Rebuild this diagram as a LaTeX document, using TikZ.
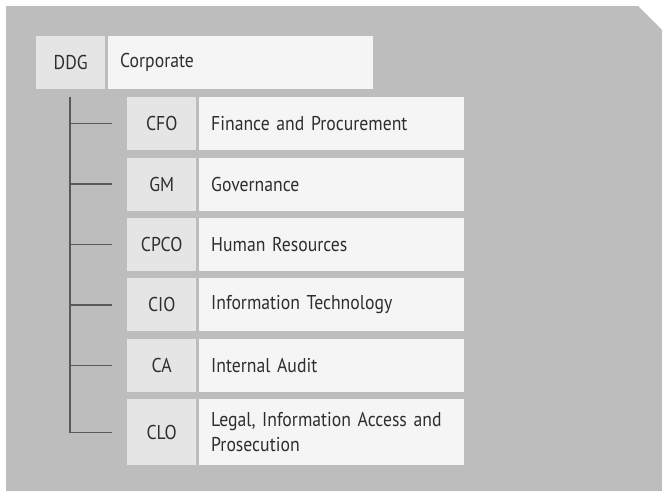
\documentclass[tikz,border=0pt]{standalone}
\usepackage{fontspec}
\setmainfont{PT Sans}[FakeStretch=0.885]
\begin{document}
\begin{tikzpicture}[x=1pt,y=-1pt,
  every node/.style={font=\fontsize{20pt}{25pt}\selectfont, text=black!82},
  abbr/.style={fill=gray!20, minimum width=69pt, minimum height=53pt, inner sep=0pt, anchor=north west},
  unit/.style={fill=gray!8, text width=241pt, inner xsep=12pt, inner ysep=0pt, minimum height=53pt, align=left, anchor=north west},
  tree/.style={draw=black!65, line width=1.3pt}
]
\useasboundingbox (0,0) rectangle (662,491);
\fill[gray!52] (6,6) -- (638,6) -- (662,30) -- (662,491) -- (6,491) -- cycle;

\node[abbr] (ddg) at (36,36) {DDG};
\node[unit] (corp) at (108,36) {Corporate};

\node[abbr] (cfo) at (127,97) {CFO};
\node[unit] (fin) at (199,97) {Finance and Procurement};
\node[abbr] (gm) at (127,157.4) {GM};
\node[unit] (gov) at (199,157.4) {Governance};
\node[abbr] (cpco) at (127,217.8) {CPCO};
\node[unit] (hr) at (199,217.8) {Human Resources};
\node[abbr] (cio) at (127,278.2) {CIO};
\node[unit] (it) at (199,278.2) {Information Technology};
\node[abbr] (ca) at (127,338.6) {CA};
\node[unit] (ia) at (199,338.6) {Internal Audit};
\node[abbr, minimum height=66pt] (clo) at (127,399) {CLO};
\node[unit, minimum height=66pt] (leg) at (199,399) {Legal, Information Access and\\Prosecution};

\coordinate (vtop) at (70,97);
\draw[tree] (vtop) |- ([xshift=-15pt]clo.west);
\foreach \n in {cfo,gm,cpco,cio,ca}
  \draw[tree] (vtop |- \n.west) -- ([xshift=-15pt]\n.west);
\end{tikzpicture}
\end{document}
